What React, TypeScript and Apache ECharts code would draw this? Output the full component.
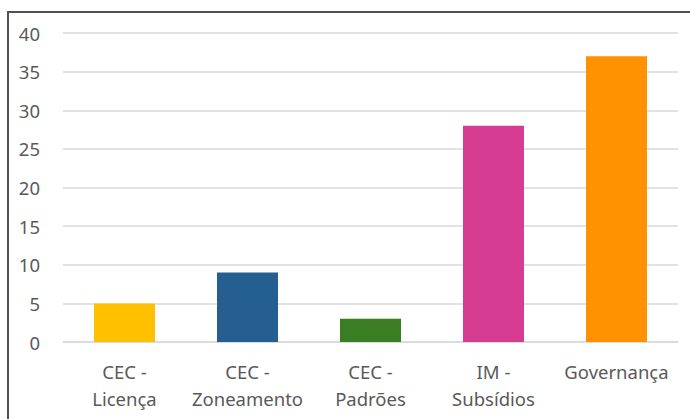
import React, { useEffect, useRef } from "react";
import * as echarts from "echarts";

const categories = ["CEC -\nLicença", "CEC -\nZoneamento", "CEC -\nPadrões", "IM -\nSubsídios", "Governança"];
const values = [5, 9, 3, 28, 37];
const colors = ["#FFC000", "#255E91", "#3A7D22", "#D63D92", "#FF9200"];

export default function App() {
  const ref = useRef<HTMLDivElement>(null);
  useEffect(() => {
    const chart = echarts.init(ref.current!, null, { renderer: "svg" });
    chart.setOption({
      animation: false,
      backgroundColor: "#ffffff",
      graphic: [
        {
          type: "rect",
          shape: { x: 8, y: 12, width: 700, height: 420 },
          style: { fill: "none", stroke: "#505050", lineWidth: 2 },
          silent: true,
        },
      ],
      grid: { left: 63, right: 12, top: 33, bottom: 77 },
      xAxis: {
        type: "category",
        data: categories,
        axisLine: { show: true, lineStyle: { color: "#D9D9D9", width: 1.5 } },
        axisTick: { show: false },
        axisLabel: {
          color: "#595959",
          fontSize: 18.5,
          fontFamily: "Noto Sans",
          lineHeight: 27,
          margin: 16,
          interval: 0,
        },
      },
      yAxis: {
        type: "value",
        min: 0,
        max: 40,
        interval: 5,
        axisLine: { show: false },
        axisTick: { show: false },
        splitLine: { lineStyle: { color: "#D9D9D9", width: 1.5 } },
        axisLabel: {
          color: "#595959",
          fontSize: 18.5,
          fontFamily: "Noto Sans",
          margin: 23,
        },
      },
      series: [
        {
          type: "bar",
          barWidth: 61,
          data: values.map((v, i) => ({ value: v, itemStyle: { color: colors[i] } })),
        },
      ],
    });
    return () => chart.dispose();
  }, []);
  return (
    <div style={{ position: "fixed", left: 0, top: 0, width: 690, height: 419, background: "#fff" }}>
      <div ref={ref} style={{ width: 690, height: 419 }} />
    </div>
  );
}
